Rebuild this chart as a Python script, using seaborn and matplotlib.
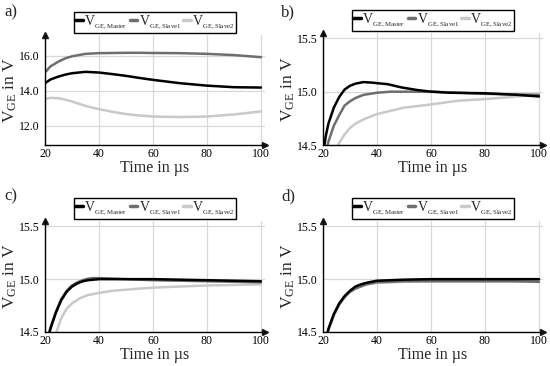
import matplotlib
matplotlib.use("Agg")
import matplotlib.pyplot as plt
import seaborn as sns
import pandas as pd

sns.set_theme(style="white")
plt.rcParams['font.family'] = ['Liberation Serif', 'DejaVu Serif']
plt.rcParams['mathtext.fontset'] = 'custom'
plt.rcParams['mathtext.rm'] = 'Liberation Serif'

series = ["Master", "Slave1", "Slave2"]
legend_labels = [r"$\mathregular{V_{{}_{GE,Master}}}$", r"$\mathregular{V_{{}_{GE,Slave1}}}$", r"$\mathregular{V_{{}_{GE,Slave2}}}$"]
colors = {"Master": "#000000", "Slave1": "#6e6e6e", "Slave2": "#c9c9c9"}

# Panel a
t_a = [20, 22, 25, 27.5, 30, 35, 40, 45, 50, 55, 60, 70, 80, 90, 100]
a_master = [14.44, 14.65, 14.82, 14.93, 15.01, 15.09, 15.05, 14.96, 14.86, 14.74, 14.63, 14.44, 14.30, 14.21, 14.19]
a_slave1 = [15.05, 15.4, 15.68, 15.86, 15.98, 16.12, 16.16, 16.17, 16.18, 16.18, 16.17, 16.16, 16.12, 16.05, 15.93]
a_slave2 = [13.54, 13.6, 13.58, 13.5, 13.39, 13.14, 12.95, 12.8, 12.67, 12.59, 12.53, 12.5, 12.53, 12.65, 12.82]

# Panel b
tb_master = [20, 21, 22, 24, 26, 28, 30, 32, 35, 38, 40, 44, 49, 55, 60, 67, 80, 92, 100]
b_master = [14.40, 14.58, 14.70, 14.85, 14.95, 15.02, 15.055, 15.075, 15.09, 15.085, 15.08, 15.07, 15.04, 15.015, 15.0, 14.99, 14.985, 14.97, 14.955]
tb_slave1 = [21, 22, 24, 26, 28, 30, 32, 35, 40, 45, 50, 60, 70, 80, 90, 100]
b_slave1 = [14.42, 14.53, 14.68, 14.78, 14.87, 14.91, 14.94, 14.97, 14.99, 15.0, 15.0, 15.0, 14.99, 14.98, 14.975, 14.97]
tb_slave2 = [25, 26, 28, 30, 32, 35, 40, 45, 50, 60, 70, 80, 90, 100]
b_slave2 = [14.46, 14.52, 14.6, 14.66, 14.7, 14.74, 14.79, 14.82, 14.85, 14.88, 14.915, 14.93, 14.95, 14.975]

# Panel c
tc = [21, 22, 24, 26, 28, 30, 32, 34, 36, 38, 40, 50, 60, 70, 80, 90, 100]
c_master = [14.42, 14.53, 14.68, 14.8, 14.88, 14.93, 14.96, 14.98, 14.99, 14.995, 15.0, 15.0, 15.0, 14.995, 14.99, 14.985, 14.98]
c_slave1 = [14.43, 14.54, 14.69, 14.81, 14.89, 14.94, 14.97, 14.99, 15.005, 15.01, 15.01, 15.0, 14.99, 14.985, 14.98, 14.975, 14.97]
tc_slave2 = [23, 24, 26, 28, 30, 33, 36, 40, 45, 50, 60, 70, 80, 90, 100]
c_slave2 = [14.42, 14.48, 14.63, 14.72, 14.77, 14.82, 14.85, 14.87, 14.89, 14.9, 14.92, 14.93, 14.94, 14.945, 14.95]

# Panel d
td = [21, 22, 24, 26, 28, 30, 32, 34, 36, 38, 40, 45, 50, 60, 70, 80, 90, 100]
d_master = [14.42, 14.53, 14.67, 14.77, 14.84, 14.89, 14.93, 14.95, 14.965, 14.975, 14.985, 14.99, 14.995, 15.0, 15.0, 15.0, 15.0, 15.0]
d_slave1 = [14.42, 14.52, 14.66, 14.76, 14.83, 14.88, 14.91, 14.93, 14.95, 14.96, 14.97, 14.975, 14.98, 14.98, 14.98, 14.98, 14.98, 14.975]
d_slave2 = [14.42, 14.52, 14.66, 14.76, 14.83, 14.88, 14.91, 14.935, 14.95, 14.96, 14.965, 14.97, 14.975, 14.98, 14.98, 14.98, 14.98, 14.98]

panels = [
    ("a)", {"Master": (t_a, a_master), "Slave1": (t_a, a_slave1), "Slave2": (t_a, a_slave2)},
     (10.9, 17.2), [12.0, 14.0, 16.0]),
    ("b)", {"Master": (tb_master, b_master), "Slave1": (tb_slave1, b_slave1), "Slave2": (tb_slave2, b_slave2)},
     (14.5, 15.55), [14.5, 15.0, 15.5]),
    ("c)", {"Master": (tc, c_master), "Slave1": (tc, c_slave1), "Slave2": (tc_slave2, c_slave2)},
     (14.5, 15.55), [14.5, 15.0, 15.5]),
    ("d)", {"Master": (td, d_master), "Slave1": (td, d_slave1), "Slave2": (td, d_slave2)},
     (14.5, 15.55), [14.5, 15.0, 15.5]),
]

W, H = 550, 366
fig = plt.figure(figsize=(5.5, 3.66), dpi=100)
# axes boxes in pixels: left, right, top, bottom
boxes = [(45, 265, 35, 145), (323, 543, 33, 145), (45, 265, 221, 332), (323, 543, 221, 332)]
label_pos = [(4, 12), (281, 12), (4, 196), (281, 196)]

for (lab, data, ylim, yticks), (l, r, t, b), (lx, ly) in zip(panels, boxes, label_pos):
    ax = fig.add_axes([l / W, 1 - b / H, (r - l) / W, (b - t) / H])
    for s in ["Slave2", "Slave1", "Master"]:
        x, y = data[s]
        df = pd.DataFrame({"t": x, "v": y})
        sns.lineplot(data=df, x="t", y="v", ax=ax, color=colors[s], linewidth=1.8,
                     label=legend_labels[series.index(s)])
    ax.set_xlim(20, 101.5)
    ax.set_ylim(*ylim)
    ax.set_xticks([20, 40, 60, 80, 100])
    ax.set_yticks(yticks)
    ax.set_yticklabels([f"{v:.1f}" for v in yticks])
    ax.grid(True, color="#d8d8d8", linewidth=0.9)
    for sp in ["top", "right"]:
        ax.spines[sp].set_visible(False)
    for sp in ["left", "bottom"]:
        ax.spines[sp].set_color("black")
        ax.spines[sp].set_linewidth(1.0)
    ax.plot(1, 0, ">k", markersize=4, transform=ax.transAxes, clip_on=False)
    ax.plot(0, 1, "^k", markersize=4, transform=ax.transAxes, clip_on=False)
    ax.tick_params(axis="both", labelsize=8.5, length=0, colors="black")
    ax.tick_params(axis="x", pad=2.5)
    ax.tick_params(axis="y", pad=4)
    ax.set_xlabel("Time in µs", fontsize=11.5, labelpad=0)
    ax.set_ylabel(r"$\mathregular{V_{GE}}$ in V", fontsize=12.5)
    ax.yaxis.set_label_coords(-0.118, 0.5)
    handles, labels = ax.get_legend_handles_labels()
    order = [labels.index(lbl) for lbl in legend_labels]
    leg = ax.legend([handles[i] for i in order], [labels[i] for i in order],
                    loc="lower center", bbox_to_anchor=(0.5, 1.0), ncol=3, fontsize=10,
                    frameon=True, fancybox=False, edgecolor="black", framealpha=1,
                    handlelength=0.55, handletextpad=0.1, columnspacing=0.15,
                    borderpad=0.12, borderaxespad=0.15)
    leg.get_frame().set_linewidth(1.0)
    for lh in leg.get_lines():
        lh.set_linewidth(2.5)
    fig.text(lx / W, 1 - ly / H, lab, fontsize=12, va="center", ha="left")

fig.savefig("out.png", dpi=100)
